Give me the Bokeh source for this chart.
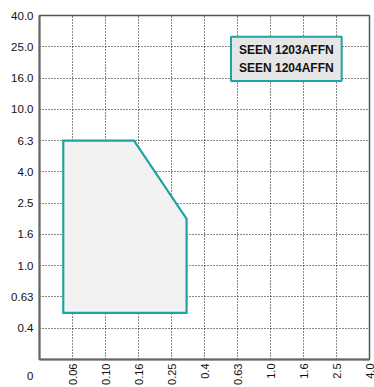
import numpy as np
from bokeh.plotting import figure
from bokeh.models import Label, FixedTicker
from bokeh.embed import file_html
from bokeh.resources import INLINE

# Axis tick labels (log-spaced series, equally spaced on the chart)
x_tick_labels = ["0.06", "0.10", "0.16", "0.25", "0.4", "0.63", "1.0", "1.6", "2.5", "4.0"]
y_tick_labels = ["0.4", "0.63", "1.0", "1.6", "2.5", "4.0", "6.3", "10.0", "16.0", "25.0", "40.0"]
origin_label = "0"

# Application area polygon (feed fz in mm, depth of cut ap in mm)
area_fz = [0.052, 0.052, 0.15, 0.31, 0.31]
area_ap = [0.5, 6.3, 6.3, 2.0, 0.5]

legend_lines = ["SEEN 1203AFFN", "SEEN 1204AFFN"]

FONT = "'Liberation Sans Narrow', 'Liberation Sans', Arial, sans-serif"
TEAL = "#1fa3a3"


def to_pos(vals, labels):
    t = np.log(np.array([float(s) for s in labels]))
    pos = np.arange(1, len(t) + 1, dtype=float)
    out = []
    for v in vals:
        lv = np.log(v)
        if lv < t[0]:
            out.append(1 + (lv - t[0]) / (t[1] - t[0]))
        elif lv > t[-1]:
            out.append(pos[-1] + (lv - t[-1]) / (t[-1] - t[-2]))
        else:
            out.append(float(np.interp(lv, t, pos)))
    return out


p = figure(width=374, height=387, output_backend="svg", toolbar_location=None,
           x_range=(0, len(x_tick_labels)), y_range=(0, len(y_tick_labels)),
           min_border_left=39, min_border_right=5, min_border_top=15, min_border_bottom=10)

p.background_fill_color = "white"
p.border_fill_color = "white"
p.outline_line_color = "#555555"
p.outline_line_width = 1.5

for ax, labels in ((p.xaxis[0], x_tick_labels), (p.yaxis[0], y_tick_labels)):
    ax.ticker = FixedTicker(ticks=list(range(1, len(labels) + 1)))
    ax.major_label_overrides = {i + 1: s for i, s in enumerate(labels)}
    ax.major_tick_in = 0
    ax.major_tick_out = 0
    ax.minor_tick_in = 0
    ax.minor_tick_out = 0
    ax.axis_line_color = "#666666"
    ax.axis_line_width = 2
    ax.axis_label_standoff = 0
    ax.major_label_text_font = FONT
    ax.major_label_text_color = "#111111"

p.yaxis.major_label_text_font_size = "11.5px"
p.xaxis.major_label_text_font_size = "11px"

# origin "0" drawn as an extra y tick, pushed below the corner by empty lines
p.yaxis[0].ticker = FixedTicker(ticks=list(range(0, len(y_tick_labels) + 1)))
p.yaxis[0].major_label_overrides = {**{i + 1: s for i, s in enumerate(y_tick_labels)},
                                    0: "\n\n" + origin_label}
p.yaxis.major_label_text_line_height = 1.4

p.xaxis.major_label_orientation = np.pi / 2
p.xaxis.major_label_standoff = 4
p.yaxis.major_label_standoff = 6

for g in (p.xgrid[0], p.ygrid[0]):
    g.grid_line_color = "#111111"
    g.grid_line_dash = "1 2"
    g.grid_line_width = 1

xs = to_pos(area_fz, x_tick_labels)
ys = to_pos(area_ap, y_tick_labels)
p.patch(xs, ys, fill_color="#f2f2f2", line_color=TEAL, line_width=2.2, line_join="miter")

leg = Label(x=7.48, y=9.61, text="\n".join(legend_lines), text_align="center",
            text_baseline="middle", text_font=FONT, text_font_size="12px",
            text_font_style="bold", text_color="#111111", text_line_height=1.3,
            background_fill_color="#e6e6e6", border_line_color=TEAL, border_line_width=2,
            padding=dict(left=8, right=8, top=6, bottom=6))
p.add_layout(leg)

open("out.html", "w").write(file_html(p, INLINE))
